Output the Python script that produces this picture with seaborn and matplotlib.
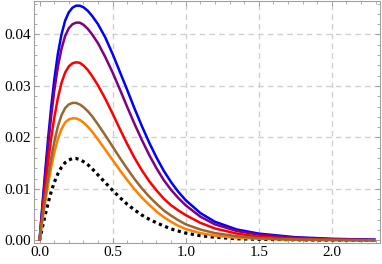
import matplotlib
matplotlib.use("Agg")
import matplotlib.pyplot as plt
import seaborn as sns
import pandas as pd
from matplotlib.ticker import MultipleLocator, FormatStrFormatter

x_vals = [0, 0.02, 0.04, 0.06, 0.08, 0.1, 0.125, 0.15, 0.175, 0.2, 0.225, 0.25, 0.275,
          0.3, 0.33, 0.36, 0.4, 0.45, 0.5, 0.55, 0.6, 0.65, 0.7, 0.75, 0.8, 0.85, 0.9, 0.95,
          1.0, 1.1, 1.2, 1.35, 1.5, 1.75, 2.0, 2.3]

blue_y = [0, 0.0070, 0.0138, 0.0202, 0.0260, 0.0310, 0.0362, 0.0400, 0.0427, 0.0443, 0.0452, 0.0456, 0.0456,
          0.0453, 0.0446, 0.0436, 0.0420, 0.0394, 0.0362, 0.0327, 0.0292, 0.0256, 0.0222, 0.0190, 0.0161,
          0.0135, 0.0113, 0.0094,
          0.0078, 0.0053, 0.0036, 0.0021, 0.0013, 0.0006, 0.0003, 0.0001]
purple_y = [0, 0.0065, 0.0128, 0.0188, 0.0242, 0.0289, 0.0337, 0.0372, 0.0397, 0.0412, 0.0420, 0.0423, 0.0423,
            0.0419, 0.0411, 0.0400, 0.0383, 0.0356, 0.0326, 0.0293, 0.0259, 0.0226, 0.0195, 0.0166, 0.0140,
            0.0117, 0.0098, 0.0082,
            0.0068, 0.0046, 0.0031, 0.0018, 0.0011, 0.0005, 0.0002, 0.0001]
red_y = [0, 0.0054, 0.0106, 0.0155, 0.0199, 0.0237, 0.0276, 0.0306, 0.0326, 0.0338, 0.0344, 0.0346, 0.0345,
         0.0340, 0.0331, 0.0319, 0.0301, 0.0275, 0.0246, 0.0216, 0.0187, 0.0160, 0.0136, 0.0115, 0.0097,
         0.0081, 0.0068, 0.0058,
         0.0049, 0.0034, 0.0023, 0.0013, 0.0007, 0.0003, 0.0001, 0.0]
brown_y = [0, 0.0044, 0.0086, 0.0125, 0.0160, 0.0190, 0.0221, 0.0243, 0.0257, 0.0264, 0.0267, 0.0267, 0.0264,
           0.0259, 0.0251, 0.0241, 0.0225, 0.0204, 0.0182, 0.0160, 0.0139, 0.0119, 0.0101, 0.0085, 0.0071,
           0.0058, 0.0048, 0.0039,
           0.0031, 0.0021, 0.0014, 0.0008, 0.0004, 0.0001, 0.0001, 0.0]
orange_y = [0, 0.0039, 0.0076, 0.0111, 0.0142, 0.0169, 0.0197, 0.0216, 0.0229, 0.0235, 0.0237, 0.0237, 0.0234,
            0.0229, 0.0221, 0.0211, 0.0196, 0.0176, 0.0156, 0.0136, 0.0117, 0.0099, 0.0083, 0.0069, 0.0056,
            0.0045, 0.0036, 0.0028,
            0.0022, 0.0014, 0.0009, 0.0005, 0.0003, 0.0001, 0.0, 0.0]
black_y = [0, 0.0026, 0.0051, 0.0074, 0.0095, 0.0112, 0.0129, 0.0142, 0.0151, 0.0156, 0.0159, 0.0159, 0.0157,
           0.0153, 0.0147, 0.0139, 0.0127, 0.0112, 0.0097, 0.0083, 0.0070, 0.0059, 0.0049, 0.0041, 0.0034,
           0.0028, 0.0022, 0.0018,
           0.0014, 0.0009, 0.0006, 0.0003, 0.0002, 0.0001, 0.0, 0.0]

x_ticks = [0.0, 0.5, 1.0, 1.5, 2.0]
y_ticks = [0.00, 0.01, 0.02, 0.03, 0.04]

sns.set_style("ticks")
plt.rcParams['font.family'] = ['Liberation Serif', 'DejaVu Serif']

fig = plt.figure(figsize=(3.82, 2.64), dpi=100)
ax = fig.add_axes([0.089, 0.08, 0.906, 0.918])

frame_col = "#a0a0a0"
grid_col = "#d0d0d0"
for xv in x_ticks[1:]:
    ax.axvline(xv, color=grid_col, lw=1.0, ls=(0, (4, 3)), zorder=0)
for yv in y_ticks[1:]:
    ax.axhline(yv, color=grid_col, lw=1.0, ls=(0, (4, 3)), zorder=0)

series = [
    (black_y, "black", (0, (1, 1.1)), 2.3),
    (blue_y, "#0000ff", "-", 1.8),
    (purple_y, "#800080", "-", 1.8),
    (red_y, "#ff0000", "-", 1.8),
    (orange_y, "#ff8000", "-", 1.8),
    (brown_y, "#996633", "-", 1.8),
]
for ys, col, ls, lw in series:
    df = pd.DataFrame({"x": x_vals, "y": ys})
    sns.lineplot(data=df, x="x", y="y", ax=ax, color=col, lw=lw,
                 estimator=None, sort=False, zorder=3)
    ax.lines[-1].set_linestyle(ls)
    ax.lines[-1].set_solid_capstyle("butt")
    ax.lines[-1].set_solid_joinstyle("round")

ax.set_xlim(-0.038, 2.33)
ax.set_ylim(-0.0005, 0.0466)
ax.set_xticks(x_ticks)
ax.set_yticks(y_ticks)
ax.xaxis.set_minor_locator(MultipleLocator(0.1))
ax.yaxis.set_minor_locator(MultipleLocator(0.002))
ax.xaxis.set_major_formatter(FormatStrFormatter("%.1f"))
ax.yaxis.set_major_formatter(FormatStrFormatter("%.2f"))
ax.set_xlabel("")
ax.set_ylabel("")

for s in ax.spines.values():
    s.set_color(frame_col)
    s.set_linewidth(0.8)
    s.set_visible(True)

ax.tick_params(which="both", direction="in", top=True, right=True, color=frame_col,
               labelsize=11, labelcolor="black", pad=2)
ax.tick_params(which="major", length=3.5, width=0.7)
ax.tick_params(which="minor", length=2, width=0.6)

fig.savefig("out.png", dpi=100)
